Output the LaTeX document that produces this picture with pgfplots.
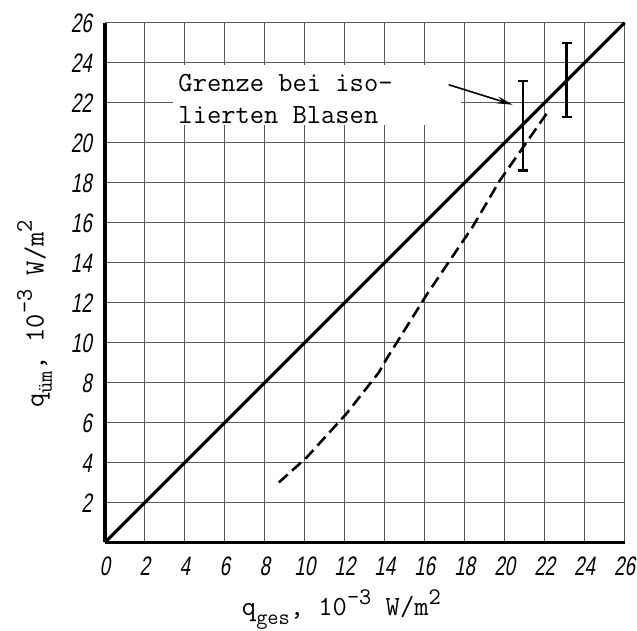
\documentclass[border=0pt]{standalone}
\usepackage{fontspec}
\usepackage{pgfplots}
\pgfplotsset{compat=1.18}
\usetikzlibrary{arrows.meta}
\newfontfamily\tickfont{Liberation Sans}[FakeStretch=0.7, FakeSlant=0.18]
\newcommand\sub[1]{\raisebox{-0.3em}{\fontsize{11bp}{12bp}\selectfont #1}}
\newcommand\sups[1]{\raisebox{0.42em}{\fontsize{12bp}{13bp}\selectfont #1}}

\begin{document}
\begin{tikzpicture}
\begin{axis}[
  scale only axis, width=262.5bp, height=262.5bp,
  xmin=0, xmax=26, ymin=0, ymax=26,
  xtick={0,2,...,26}, ytick={0,2,...,26},
  xticklabels={0,2,4,6,8,10,12,14,16,18,20,22,24,26},
  yticklabels={,2,4,6,8,10,12,14,16,18,20,22,24,26},
  major tick length=0pt,
  grid=major, grid style={black!65, line width=0.45bp},
  axis x line*=bottom, axis y line*=left,
  axis line style={black, line width=1.6bp, -},
  ticklabel style={font=\tickfont\fontsize{13.5bp}{15bp}\selectfont,
    inner sep=1bp, text height=9.7bp, text depth=0pt},
  xticklabel style={yshift=-6bp},
  yticklabel style={xshift=-5.5bp},
  clip=false,
]
% white patch behind the note
\fill[white] (axis cs:3.4,20.9) rectangle (axis cs:17.8,23.9);

\addplot[black, line width=1.6bp] coordinates {(0,0)(26,26)};
\addplot[black, line width=1.3bp, dash pattern=on 6bp off 3bp] coordinates {
  (8.7,3.0)(10.1,4.26)(12.08,6.44)(13.7,8.5)(14.1,9.2)(15.1,10.8)(16.1,12.4)
  (18.4,15.8)(19.75,18.1)(20.8,19.6)(22.2,21.6)};

% error bars
\addplot[black, line width=1.2bp] coordinates {(20.9,18.6)(20.9,23.1)};
\addplot[black, line width=1.2bp] coordinates {(20.65,18.6)(21.15,18.6)};
\addplot[black, line width=1.2bp] coordinates {(20.65,23.1)(21.15,23.1)};
\addplot[black, line width=1.2bp] coordinates {(23.1,21.3)(23.1,25.0)};
\addplot[black, line width=1.2bp] coordinates {(22.85,21.3)(23.35,21.3)};
\addplot[black, line width=1.2bp] coordinates {(22.85,25.0)(23.35,25.0)};

\node[anchor=north west, align=left, inner sep=0pt,
  font=\ttfamily\fontsize{14bp}{16bp}\selectfont] at (axis cs:3.66,23.45)
  {Grenze bei iso-\\lierten Blasen};
\draw[black, line width=0.8bp, -{Stealth[length=8bp,width=3.5bp]}]
  (axis cs:17.2,22.9) -- (axis cs:20.4,21.9);

\node[anchor=base, inner sep=0pt, font=\ttfamily\fontsize{14bp}{16bp}\selectfont]
  at ([yshift=-37bp]rel axis cs:0.455,0)
  {q\sub{ges}, 10\sups{-3} W/m\sups{2}};
\node[anchor=base, rotate=90, inner sep=0pt, font=\ttfamily\fontsize{14bp}{16bp}\selectfont]
  at ([xshift=-31bp]rel axis cs:0,0.44)
  {q\sub{üm}, 10\sups{-3} W/m\sups{2}};
\end{axis}
\path ([xshift=-53bp,yshift=-44.5bp]current axis.south west)
  rectangle ([xshift=2bp,yshift=11.5bp]current axis.north east);
\end{tikzpicture}
\end{document}
